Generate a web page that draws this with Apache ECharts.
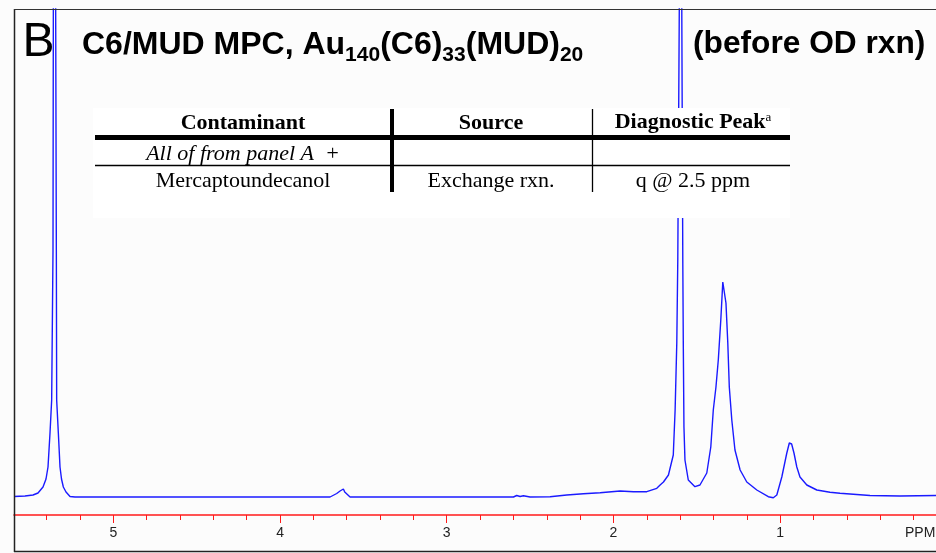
<!DOCTYPE html>
<html>
<head>
<meta charset="utf-8">
<script src="https://cdn.jsdelivr.net/npm/echarts@6/dist/echarts.min.js"></script>
<style>
  html, body { margin: 0; padding: 0; background: #fcfcfc; }
  #chart { width: 936px; height: 553px; }
</style>
</head>
<body>
<div id="chart"></div>
<script>
// 1H NMR trace: chemical shift (ppm) and intensity (arbitrary units, baseline = 0)
const shiftPpm = [
  5.596, 5.530, 5.482, 5.452, 5.422, 5.404, 5.392, 5.380, 5.370, 5.362, 5.360, 5.352,
  5.346, 5.342, 5.340, 5.330, 5.320, 5.311, 5.300, 5.284, 5.260, 5.230, 4.500, 3.700,
  3.660, 3.640, 3.620, 3.612, 3.606, 3.580, 3.000, 2.600, 2.580, 2.560, 2.540, 2.500,
  2.380, 2.280, 2.180, 2.080, 1.960, 1.880, 1.840, 1.800, 1.740, 1.720, 1.700, 1.670,
  1.660, 1.641, 1.630, 1.620, 1.614, 1.605, 1.597, 1.590, 1.584, 1.581, 1.577, 1.571,
  1.551, 1.511, 1.481, 1.440, 1.416, 1.401, 1.385, 1.371, 1.356, 1.344, 1.340, 1.335,
  1.325, 1.314, 1.305, 1.290, 1.271, 1.240, 1.200, 1.140, 1.071, 1.041, 1.020, 0.990,
  0.960, 0.945, 0.937, 0.931, 0.924, 0.917, 0.900, 0.881, 0.840, 0.780, 0.701, 0.641,
  0.461, 0.281, 0.065
];
const intensity = [
  0.5, 1, 2, 4, 10, 18, 30, 64, 97, 247, 488, 1400,
  488, 247, 97, 64, 30, 18, 10, 5, 0.5, 0, 0, 0,
  3.5, 6, 8, 5, 4, 0, 0, 0, 1.5, 0.5, 1.2, 0,
  0.3, 2, 3.3, 4.3, 6, 5.3, 5.3, 5.3, 8.7, 12, 15, 22,
  24, 42, 87, 154, 237, 488, 1600, 488, 237, 154, 70, 37,
  17, 10.3, 12, 24, 50, 87, 110, 137, 177, 215, 216, 215,
  194, 154, 110, 77, 47, 27, 15, 7, 0.3, -0.7, 2, 20,
  44, 54, 55, 53, 55, 44, 30, 20, 12, 7, 4.7, 3.7,
  1.5, 1, 1.5
];

// Axis ticks and labels
const majorTicks = [1, 2, 3, 4, 5];
const minorTicks = [0.2, 0.4, 0.6, 0.8, 1.2, 1.4, 1.6, 1.8, 2.2, 2.4, 2.6, 2.8,
                    3.2, 3.4, 3.6, 3.8, 4.2, 4.4, 4.6, 4.8, 5.2, 5.4];
const axisUnit = 'PPM';

// Table contents
const tableHeader = ['Contaminant', 'Source', 'Diagnostic Peak'];
const tableRow1 = ['All of from panel A  +', '', ''];
const tableRow2 = ['Mercaptoundecanol', 'Exchange rxn.', 'q @ 2.5 ppm'];

const panelLetter = 'B';
const sans = '"Liberation Sans", Arial, sans-serif';
const serif = '"Liberation Serif", "Times New Roman", serif';

const chart = echarts.init(document.getElementById('chart'), null, { renderer: 'canvas' });

const spectrum = shiftPpm.map((p, i) => [p, intensity[i]]);

const colX = [243, 491, 693];
const red = '#ff1a1a';

const option = {
  backgroundColor: '#fcfcfc',
  animation: false,
  grid: { left: 14, right: 0, top: 9, bottom: 38, containLabel: false, show: false },
  xAxis: [
    {
      type: 'value', inverse: true, min: 0.065, max: 5.596, position: 'bottom', z: 5,
      axisLine: { show: true, onZero: false, lineStyle: { color: red, width: 1.6, opacity: 1 } },
      axisTick: { show: true, customValues: majorTicks, length: 8, lineStyle: { color: red, width: 1 } },
      axisLabel: { show: true, customValues: majorTicks, margin: 11, color: '#222', fontSize: 14, fontFamily: sans },
      splitLine: { show: false }
    },
    {
      type: 'value', inverse: true, min: 0.065, max: 5.596, position: 'bottom', offset: 0, z: 5,
      axisLine: { show: false, onZero: false },
      axisTick: { show: true, customValues: minorTicks, length: 5, lineStyle: { color: red, width: 1 } },
      axisLabel: { show: false },
      splitLine: { show: false }
    }
  ],
  yAxis: { type: 'value', min: -18, max: 488, show: false, splitLine: { show: false } },
  series: [{
    type: 'line', xAxisIndex: 0, data: spectrum, showSymbol: false, clip: true,
    lineStyle: { color: '#1a1aff', width: 1.4 }, z: 2
  }],
  graphic: [
    // frame
    { type: 'line', z: 200, shape: { x1: 14.5, y1: 9, x2: 14.5, y2: 552 }, style: { stroke: '#222', lineWidth: 1.5 } },
    { type: 'line', z: 200, shape: { x1: 14, y1: 9.5, x2: 936, y2: 9.5 }, style: { stroke: '#333', lineWidth: 1 } },
    { type: 'line', z: 200, shape: { x1: 14, y1: 551.5, x2: 936, y2: 551.5 }, style: { stroke: '#222', lineWidth: 1.6 } },
    // panel letter and title
    { type: 'text', z: 200, x: 22.5, y: 18.6,
      style: { text: panelLetter, fill: '#000', font: '48px ' + sans, align: 'left', verticalAlign: 'top', lineHeight: 48 } },
    { type: 'text', z: 200, x: 82, y: 29,
      style: {
        text: '{m|C6/MUD MPC, Au}{s|140}{m|(C6)}{s|33}{m|(MUD)}{s|20}',
        align: 'left', verticalAlign: 'top',
        rich: {
          m: { fontSize: 32, fontWeight: 'bold', fontFamily: sans, lineHeight: 35, verticalAlign: 'top', fill: '#000' },
          s: { fontSize: 21, fontWeight: 'bold', fontFamily: sans, lineHeight: 21, padding: [16, 0, 0, 0], verticalAlign: 'top', fill: '#000' }
        }
      } },
    { type: 'text', z: 200, x: 693, y: 27,
      style: { text: '(before OD rxn)', fill: '#000', font: 'bold 31.7px ' + sans, align: 'left', verticalAlign: 'top', lineHeight: 35 } },
    // table panel
    { type: 'rect', z: 100, shape: { x: 93, y: 108, width: 697, height: 110 }, style: { fill: '#ffffff' } },
    { type: 'line', z: 110, shape: { x1: 95, y1: 137.5, x2: 790, y2: 137.5 }, style: { stroke: '#000', lineWidth: 5 } },
    { type: 'line', z: 110, shape: { x1: 95, y1: 165.5, x2: 790, y2: 165.5 }, style: { stroke: '#000', lineWidth: 1.5 } },
    { type: 'line', z: 110, shape: { x1: 392, y1: 109, x2: 392, y2: 192 }, style: { stroke: '#000', lineWidth: 4 } },
    { type: 'line', z: 110, shape: { x1: 592.5, y1: 109, x2: 592.5, y2: 192 }, style: { stroke: '#000', lineWidth: 1.3 } },
    { type: 'text', z: 110, x: colX[0], y: 123,
      style: { text: tableHeader[0], fill: '#000', font: 'bold 22px ' + serif, align: 'center', verticalAlign: 'middle' } },
    { type: 'text', z: 110, x: colX[1], y: 123,
      style: { text: tableHeader[1], fill: '#000', font: 'bold 22px ' + serif, align: 'center', verticalAlign: 'middle' } },
    { type: 'text', z: 110, x: colX[2], y: 123,
      style: {
        text: '{b|' + tableHeader[2] + '}{sup|a}', align: 'center', verticalAlign: 'middle',
        rich: {
          b: { fontSize: 22, fontWeight: 'bold', fontFamily: serif, lineHeight: 24, verticalAlign: 'top', fill: '#000' },
          sup: { fontSize: 13, fontFamily: serif, lineHeight: 13, verticalAlign: 'top', fill: '#000' }
        }
      } },
    { type: 'text', z: 110, x: colX[0], y: 154,
      style: { text: tableRow1[0], fill: '#000', font: 'italic 22px ' + serif, align: 'center', verticalAlign: 'middle' } },
    { type: 'text', z: 110, x: colX[0], y: 181,
      style: { text: tableRow2[0], fill: '#000', font: '22px ' + serif, align: 'center', verticalAlign: 'middle' } },
    { type: 'text', z: 110, x: colX[1], y: 181,
      style: { text: tableRow2[1], fill: '#000', font: '22px ' + serif, align: 'center', verticalAlign: 'middle' } },
    { type: 'text', z: 110, x: colX[2], y: 181,
      style: { text: tableRow2[2], fill: '#000', font: '22px ' + serif, align: 'center', verticalAlign: 'middle' } },
    // axis unit
    { type: 'text', z: 200, x: 905, y: 533,
      style: { text: axisUnit, fill: '#222', font: '14px ' + sans, align: 'left', verticalAlign: 'middle' } }
  ]
};

chart.setOption(option);
</script>
</body>
</html>
